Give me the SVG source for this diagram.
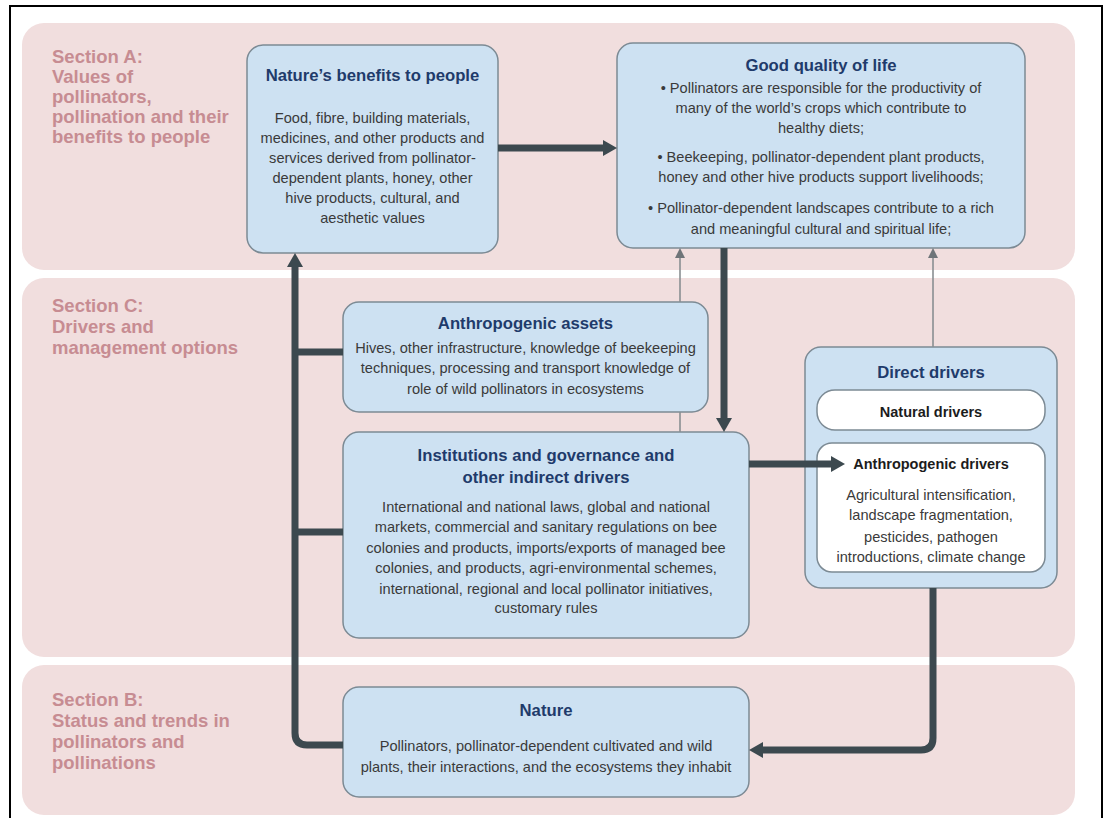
<svg xmlns="http://www.w3.org/2000/svg" width="1109" height="818" viewBox="0 0 1109 818">
<style>
.band{fill:#f1dede;}
.sec{font-family:"Liberation Sans",Arial,sans-serif;font-weight:bold;font-size:18.5px;fill:#c78c92;}
.box{fill:#cde1f2;stroke:#7c8a94;stroke-width:1.5;}
.inner{fill:#ffffff;stroke:#7c8a94;stroke-width:1.5;}
.title{font-family:"Liberation Sans",Arial,sans-serif;font-weight:bold;font-size:16.7px;fill:#1f3b6b;text-anchor:middle;}
.sub{font-family:"Liberation Sans",Arial,sans-serif;font-weight:bold;font-size:14.5px;fill:#1c1c1c;text-anchor:middle;}
.body{font-family:"Liberation Sans",Arial,sans-serif;font-size:14.6px;fill:#3a3a3a;text-anchor:middle;}
.thick{fill:none;stroke:#3c494f;stroke-width:7;}
.thin{fill:none;stroke:#8a8f92;stroke-width:1.6;}
</style>
<defs>
<marker id="ah" markerUnits="userSpaceOnUse" viewBox="0 0 14 16" refX="4" refY="8" markerWidth="14" markerHeight="16" orient="auto">
<path d="M0,0 L14,8 L0,16 z" fill="#3c494f"/>
</marker>
<marker id="ahs" markerUnits="userSpaceOnUse" viewBox="0 0 10 10" refX="3" refY="5" markerWidth="10" markerHeight="10" orient="auto">
<path d="M0,0 L10,5 L0,10 z" fill="#6f7579"/>
</marker>
</defs>
<rect x="0" y="0" width="1109" height="818" fill="#ffffff"/>
<rect x="10" y="6" width="1092" height="840" fill="none" stroke="#000000" stroke-width="2"/>

<g id="sections">
<rect class="band" x="22" y="23" width="1053" height="247" rx="22"/>
<rect class="band" x="22" y="278" width="1053" height="379" rx="22"/>
<rect class="band" x="22" y="665" width="1053" height="150" rx="22"/>
<text class="sec" x="52" y="63">Section A:</text>
<text class="sec" x="52" y="83">Values of</text>
<text class="sec" x="52" y="103">pollinators,</text>
<text class="sec" x="52" y="123">pollination and their</text>
<text class="sec" x="52" y="143">benefits to people</text>
<text class="sec" x="52" y="312">Section C:</text>
<text class="sec" x="52" y="333">Drivers and</text>
<text class="sec" x="52" y="354">management options</text>
<text class="sec" x="52" y="706">Section B:</text>
<text class="sec" x="52" y="727">Status and trends in</text>
<text class="sec" x="52" y="748">pollinators and</text>
<text class="sec" x="52" y="769">pollinations</text>
</g>

<g id="natures-benefits">
<rect class="box" x="247" y="45" width="251" height="208" rx="16"/>
<text class="title" x="372.5" y="81">Nature’s benefits to people</text>
<text class="body" x="372.5" y="123">Food, fibre, building materials,</text>
<text class="body" x="372.5" y="143">medicines, and other products and</text>
<text class="body" x="372.5" y="163">services derived from pollinator-</text>
<text class="body" x="372.5" y="183">dependent plants, honey, other</text>
<text class="body" x="372.5" y="203">hive products,  cultural, and</text>
<text class="body" x="372.5" y="223">aesthetic values</text>
</g>

<g id="good-quality-of-life">
<rect class="box" x="617" y="43" width="408" height="205" rx="16"/>
<text class="title" x="821" y="71">Good quality of life</text>
<text class="body" x="821" y="93">• Pollinators are responsible for the productivity of</text>
<text class="body" x="821" y="113">many of the world’s crops which contribute to</text>
<text class="body" x="821" y="133">healthy diets;</text>
<text class="body" x="821" y="162">• Beekeeping, pollinator-dependent plant products,</text>
<text class="body" x="821" y="182">honey and other hive products support livelihoods;</text>
<text class="body" x="821" y="213">• Pollinator-dependent landscapes contribute to a rich</text>
<text class="body" x="821" y="234">and meaningful cultural and spiritual life;</text>
</g>

<g id="anthropogenic-assets">
<rect class="box" x="343" y="302" width="365" height="110" rx="16"/>
<text class="title" x="525.5" y="329">Anthropogenic assets</text>
<text class="body" x="525.5" y="353">Hives, other infrastructure, knowledge of beekeeping</text>
<text class="body" x="525.5" y="373">techniques, processing and transport knowledge of</text>
<text class="body" x="525.5" y="394">role of wild pollinators in ecosystems</text>
</g>

<g id="institutions">
<rect class="box" x="343" y="432" width="406" height="206" rx="16"/>
<text class="title" x="546" y="461">Institutions and governance and</text>
<text class="title" x="546" y="483">other indirect drivers</text>
<text class="body" x="546" y="512">International and national laws, global and national</text>
<text class="body" x="546" y="532">markets, commercial and sanitary regulations on bee</text>
<text class="body" x="546" y="553">colonies and products, imports/exports of managed bee</text>
<text class="body" x="546" y="573">colonies, and products, agri-environmental schemes,</text>
<text class="body" x="546" y="594">international, regional and local pollinator initiatives,</text>
<text class="body" x="546" y="613">customary rules</text>
</g>

<g id="direct-drivers">
<rect class="box" x="805" y="347" width="252" height="241" rx="16"/>
<text class="title" x="931" y="378">Direct drivers</text>
<g id="natural-drivers">
<rect class="inner" x="817" y="390" width="228" height="40" rx="18"/>
<text class="sub" x="931" y="417">Natural drivers</text>
</g>
<g id="anthropogenic-drivers">
<rect class="inner" x="817" y="443" width="228" height="129" rx="15"/>
<text class="sub" x="931" y="469">Anthropogenic drivers</text>
<text class="body" x="931" y="500">Agricultural intensification,</text>
<text class="body" x="931" y="520">landscape fragmentation,</text>
<text class="body" x="931" y="542">pesticides, pathogen</text>
<text class="body" x="931" y="562">introductions, climate change</text>
</g>
</g>

<g id="nature">
<rect class="box" x="343" y="687" width="406" height="110" rx="16"/>
<text class="title" x="546" y="716">Nature</text>
<text class="body" x="546" y="751">Pollinators, pollinator-dependent cultivated and wild</text>
<text class="body" x="546" y="772">plants, their interactions, and the ecosystems they inhabit</text>
</g>

<g id="connectors">
<path class="thick" d="M498,148 H607" marker-end="url(#ah)"/>
<path class="thick" d="M343,745 H307 Q295,745 295,733 V263" marker-end="url(#ah)"/>
<path class="thick" d="M343,352 H295"/>
<path class="thick" d="M343,532 H295"/>
<path class="thick" d="M724,248 V422" marker-end="url(#ah)"/>
<path class="thick" d="M749,464 H835" marker-end="url(#ah)"/>
<path class="thick" d="M933,588 V738 Q933,750 921,750 H759" marker-end="url(#ah)"/>
<path class="thin" d="M680,302 V255" marker-end="url(#ahs)"/>
<path class="thin" d="M680,432 V412"/>
<path class="thin" d="M933,347 V255" marker-end="url(#ahs)"/>
</g>
</svg>
